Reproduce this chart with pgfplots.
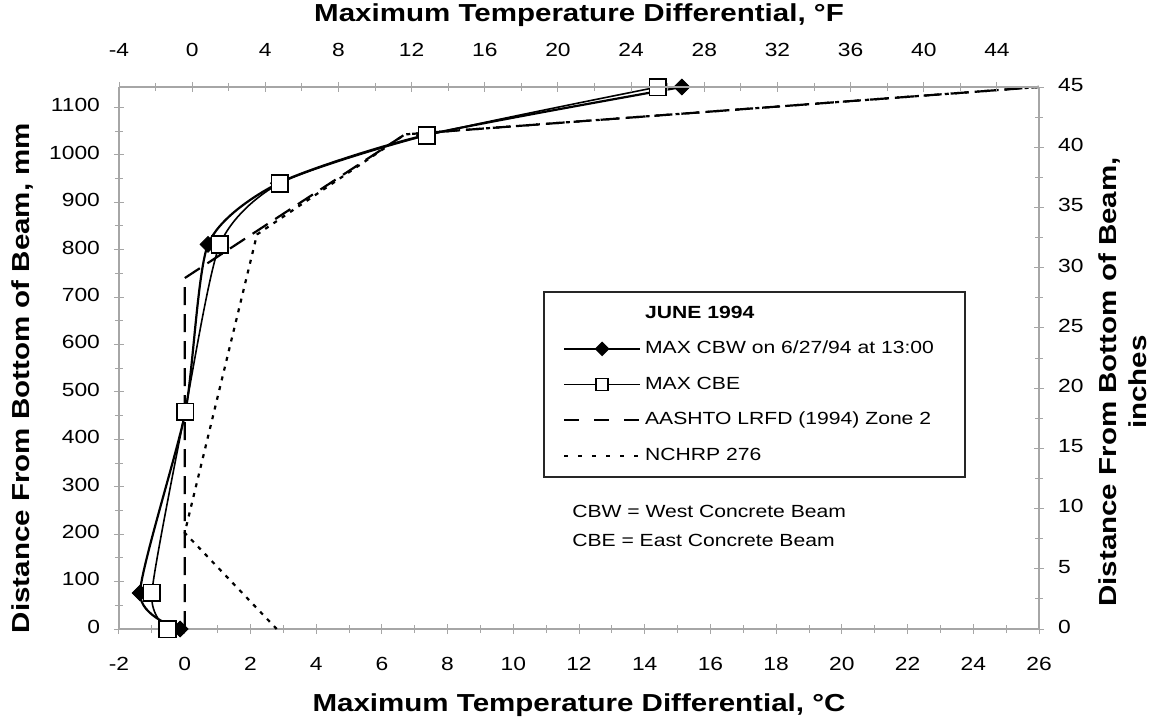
\documentclass[border=0pt]{standalone}
\usepackage{fontspec}
\setmainfont{Liberation Sans}[FakeStretch=1.2]
\usepackage{pgfplots}
\pgfplotsset{compat=1.18}
\begin{document}
\begin{tikzpicture}[x=1pt,y=1pt]
\useasboundingbox (-59.5,-48) rectangle (519,314.5);
\pgfplotsset{
  every axis/.append style={
    scale only axis, width=460pt, height=271pt, at={(0,0)}, anchor=south west,
    axis line style={black!35, line width=0.6pt},
    tick style={black!35, line width=0.5pt},
    tick align=center, major tick length=5pt, minor tick length=4pt,
    tick label style={font=\fontsize{9.5}{11}\selectfont},
    typeset ticklabels with strut,
    /pgf/number format/assume math mode=true,
    /pgf/number format/1000 sep={},
  },
}
\def\labfont{\fontsize{12.3}{15}\selectfont\bfseries}
% main axis (degC, mm)
\begin{axis}[
  xmin=-2, xmax=26, ymin=0, ymax=1143,
  axis x line*=bottom, axis y line*=left,
  xtick={-2,0,...,26}, minor x tick num=1,
  ytick={0,100,...,1100}, minor y tick num=1,
  xticklabel style={yshift=-7pt},
  yticklabel style={xshift=-3.5pt},
  every axis x label/.style={at={(axis description cs:0.5,0)}, yshift=-38pt, anchor=center, font=\labfont},
  every axis y label/.style={at={(axis description cs:0,0.5)}, xshift=-48.5pt, yshift=-10pt, rotate=90, anchor=center, font=\labfont},
  xlabel={Maximum Temperature Differential, °C},
  ylabel={Distance From Bottom of Beam, mm},
  clip=false,
  legend image code/.code={\draw[mark repeat=2,mark phase=2,#1] plot coordinates {(0pt,0pt) (19pt,0pt) (38pt,0pt)};},
  legend style={at={(rel axis cs:0.461,0.624)}, anchor=north west, draw=black!85, line width=1pt,
    font=\fontsize{8.8}{10.5}\selectfont, row sep=6pt, inner xsep=9.5pt, inner ysep=5pt,
    /tikz/every even column/.append style={column sep=5pt}},
  legend cell align=left,
]
\addplot[forget plot, black, line width=1.1pt, smooth, tension=0.4, mark=square*, mark size=2.8pt,
  mark options={rotate=45, fill=black, solid, line width=0.4pt}]
  coordinates {(-0.14,0) (-1.36,76) (0.02,458) (0.71,811) (2.85,940) (7.3,1041) (15.13,1143)};
\addplot[forget plot, black, line width=0.8pt, smooth, tension=0.4, mark=square*, mark size=4.2pt,
  mark options={fill=white, solid, line width=0.9pt}]
  coordinates {(-0.52,0) (-1.0,76) (0.01,458) (1.07,811) (2.9,940) (7.37,1041) (14.4,1143)};
\addplot[forget plot, black, line width=1.1pt, dash pattern=on 9pt off 4.5pt]
  coordinates {(0,0) (0,740) (6.7,1043) (26,1143)};
\addplot[forget plot, black, line width=1.1pt, dash pattern=on 2pt off 3pt]
  coordinates {(2.8,0) (0,203) (2.2,832) (6.7,1043) (26,1143)};

\addlegendimage{empty legend}
\addlegendentry{\textbf{JUNE 1994}}
\addlegendimage{black, line width=1pt, mark=square*, mark size=2.1pt, mark options={rotate=45, fill=black, solid}}
\addlegendentry{MAX CBW on 6/27/94 at 13:00\hspace*{4pt}}
\addlegendimage{black, line width=0.8pt, mark=square*, mark size=3pt, mark options={fill=white, solid, line width=0.8pt}}
\addlegendentry{MAX CBE}
\addlegendimage{black, line width=1pt, dash pattern=on 7.5pt off 7.5pt}
\addlegendentry{AASHTO LRFD (1994) Zone 2}
\addlegendimage{black, line width=1pt, dash pattern=on 2pt off 5pt}
\addlegendentry{NCHRP 276}

\node[anchor=west, font=\fontsize{8.8}{10.5}\selectfont] at (rel axis cs:0.485,0.216) {CBW = West Concrete Beam};
\node[anchor=west, font=\fontsize{8.8}{10.5}\selectfont] at (rel axis cs:0.485,0.164) {CBE = East Concrete Beam};
\end{axis}
% top axis (degF)
\begin{axis}[
  xmin=-4, xmax=46.3, ymin=0, ymax=1,
  axis x line*=top, hide y axis,
  xtick={-4,0,...,44}, minor x tick num=1,
  xticklabel style={yshift=6pt},
  every axis x label/.style={at={(axis description cs:0.5,1)}, yshift=36pt, anchor=center, font=\labfont},
  xlabel={Maximum Temperature Differential, °F},
]
\end{axis}
% right axis (inches)
\begin{axis}[
  xmin=0, xmax=1, ymin=0, ymax=45,
  axis y line*=right, hide x axis,
  ytick={0,5,...,45}, minor y tick num=1,
  yticklabel style={xshift=3.5pt},
  every axis y label/.style={at={(axis description cs:1,0.5)}, xshift=43pt, yshift=-12pt, rotate=90, anchor=center, font=\labfont},
  ylabel={\begin{tabular}{@{}c@{}}Distance From Bottom of Beam,\\inches\end{tabular}},
]
\end{axis}
\end{tikzpicture}
\end{document}
